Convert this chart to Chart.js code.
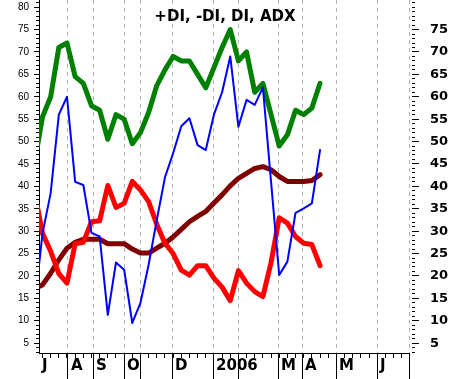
<!DOCTYPE html>
<html>
<head>
<meta charset="utf-8">
<script src="https://cdn.jsdelivr.net/npm/chart.js@4.4.1/dist/chart.umd.min.js"></script>
<style>
  html, body { margin: 0; padding: 0; background: #fff; }
  #wrap { width: 451px; height: 379px; }
</style>
</head>
<body>
<div id="wrap"><canvas id="dmi-chart" width="451" height="379"></canvas></div>
<script>
const chartTitle = '+DI, -DI, DI, ADX';

// weekly points, week 0 sits just left of the visible range
const weeks   = [0, 1, 2, 3, 4, 5, 6, 7, 8, 9, 10, 11, 12, 13, 14, 15, 16, 17, 18, 19, 20, 21, 22, 23, 24, 25, 26, 27, 28, 29, 30, 31, 32, 33, 34, 35];
const plusDI  = [45, 55.5, 60, 71, 72, 64.5, 63, 58, 57, 50.5, 56, 55, 49.5, 52, 56.5, 62.5, 66, 69, 68, 68, 65, 62, 66.5, 71, 75, 68, 70, 61, 63, 56, 49, 51.5, 57, 56, 57.5, 63];
const minusDI = [39, 29.5, 25.5, 20.5, 18.4, 27.2, 27.5, 32.1, 32.3, 40.2, 35.3, 36.2, 41.1, 39.2, 36.6, 31.5, 27.3, 25, 21.3, 20.2, 22.3, 22.3, 19.5, 17.5, 14.5, 21.2, 18.4, 16.5, 15.4, 23, 33, 31.8, 28.8, 27.3, 27, 22.3];
const dx      = [13, 29.5, 38.5, 56, 60, 41, 40.3, 29.6, 28.8, 11.3, 23, 21.4, 9.5, 14, 22.5, 32.5, 42, 47.4, 53.4, 55.2, 49.2, 48.1, 56, 61, 69, 53.3, 59.3, 58.2, 62.1, 41, 20.2, 23.2, 34.1, 35.1, 36.2, 48.1];
const adx     = [17.2, 18, 20.6, 23.6, 26.2, 27.5, 28.2, 28.2, 28.2, 27.2, 27.2, 27.2, 26, 25.1, 25.1, 26.2, 27.3, 28.7, 30.4, 32.1, 33.3, 34.4, 36.3, 38.1, 40.1, 41.8, 42.9, 44, 44.4, 43.7, 42.2, 41.1, 41.1, 41.1, 41.3, 42.6];

// month boundaries (in weeks) and their labels
const monthStarts = [0.57, 4.12, 7.19, 10.99, 12.95, 16.87, 21.89, 24.96, 29.86, 32.8, 36.97, 41.99, 45.9];
const monthLabels = ['J', 'A', 'S', 'O', '', 'D', '2006', '', 'M', 'A', 'M', 'J', ''];

const leftTicks  = [5, 10, 15, 20, 25, 30, 35, 40, 45, 50, 55, 60, 65, 70, 75, 80];
const rightTicks = [5, 10, 15, 20, 25, 30, 35, 40, 45, 50, 55, 60, 65, 70, 75];
const yMin = 2.8, yMax = 81.6;

function toPoints(values) {
    return values.map((v, i) => ({ x: weeks[i], y: v }));
}

function fixSize(prop, size) {
    return function(scale) {
        scale[prop] = size;
        scale.paddingTop = 0;
        scale.paddingBottom = 0;
        scale.paddingLeft = 0;
        scale.paddingRight = 0;
    };
}

function setTicks(values) {
    return function(scale) {
        scale.ticks = values.map(v => ({ value: v }));
    };
}

const unitTicks = [];
for (let v = 3; v <= 81; v++) unitTicks.push(v);
const weekTicks = [];
for (let w = 1; w <= 45; w++) weekTicks.push(w);

const titlePlugin = {
    id: 'chartTitle',
    afterDraw(chart) {
        const ctx = chart.ctx;
        ctx.save();
        ctx.font = 'bold 15px "DejaVu Sans"';
        ctx.fillStyle = '#000';
        ctx.textAlign = 'center';
        ctx.textBaseline = 'alphabetic';
        ctx.fillText(chartTitle, 225, 21);
        ctx.restore();
    }
};

const ctx = document.getElementById('dmi-chart').getContext('2d');
new Chart(ctx, {
    type: 'line',
    data: {
        datasets: [
            { label: 'DI', data: toPoints(dx), borderColor: '#0000ff', borderWidth: 2, order: 1 },
            { label: '+DI', data: toPoints(plusDI), borderColor: '#008000', borderWidth: 5, order: 2 },
            { label: '-DI', data: toPoints(minusDI), borderColor: '#ff0000', borderWidth: 5, order: 3 },
            { label: 'ADX', data: toPoints(adx), borderColor: '#800000', borderWidth: 5, order: 4 }
        ]
    },
    options: {
        responsive: false,
        animation: false,
        devicePixelRatio: 1,
        layout: { padding: 0 },
        elements: {
            point: { radius: 0 },
            line: { tension: 0, borderJoinStyle: 'round', borderCapStyle: 'round', fill: false }
        },
        plugins: {
            legend: { display: false },
            title: { display: false },
            tooltip: { enabled: false }
        },
        scales: {
            xWeek: {
                type: 'linear',
                position: 'bottom',
                weight: 0,
                min: monthStarts[0],
                max: monthStarts[monthStarts.length - 1],
                afterBuildTicks: setTicks(weekTicks),
                afterFit: fixSize('height', 0),
                ticks: { display: false },
                grid: { drawOnChartArea: false, tickLength: 5, color: '#000' },
                border: { display: false }
            },
            x: {
                type: 'linear',
                position: 'bottom',
                weight: 1,
                min: monthStarts[0],
                max: monthStarts[monthStarts.length - 1],
                afterBuildTicks: setTicks(monthStarts),
                afterFit: fixSize('height', 26),
                ticks: {
                    autoSkip: false,
                    maxRotation: 0,
                    align: 'start',
                    labelOffset: 3,
                    padding: -22,
                    color: '#000',
                    font: { family: 'DejaVu Sans', size: 15, weight: 'bold' },
                    callback: (v, i) => monthLabels[i]
                },
                grid: {
                    tickLength: 26,
                    color: c => c.index === 0 ? 'rgba(0,0,0,0)' : '#b4b4b4',
                    tickColor: c => c.index === 0 ? 'rgba(0,0,0,0)' : '#000',
                    tickBorderDash: []
                },
                border: { display: true, color: '#000', dash: [4, 4] }
            },
            yMinor: {
                type: 'linear',
                position: 'left',
                weight: 0,
                min: yMin,
                max: yMax,
                afterBuildTicks: setTicks(unitTicks),
                afterFit: fixSize('width', 0),
                ticks: { display: false },
                grid: { drawOnChartArea: false, tickLength: 3, color: '#000' },
                border: { display: false }
            },
            y: {
                type: 'linear',
                position: 'left',
                weight: 1,
                min: yMin,
                max: yMax,
                afterBuildTicks: setTicks(leftTicks),
                afterFit: fixSize('width', 39),
                ticks: {
                    padding: 5,
                    color: '#000',
                    font: { family: 'Liberation Sans', size: 10 }
                },
                grid: { drawOnChartArea: false, tickLength: 5, color: '#000' },
                border: { display: true, color: '#000' }
            },
            yRMinor: {
                type: 'linear',
                position: 'right',
                weight: 0,
                min: yMin,
                max: yMax,
                afterBuildTicks: setTicks(unitTicks),
                afterFit: fixSize('width', 0),
                ticks: { display: false },
                grid: { drawOnChartArea: false, tickLength: 6, color: '#000', tickBorderDash: [0, 3, 3, 20] },
                border: { display: false }
            },
            yR: {
                type: 'linear',
                position: 'right',
                weight: 1,
                min: yMin,
                max: yMax,
                afterBuildTicks: setTicks(rightTicks),
                afterFit: fixSize('width', 42),
                ticks: {
                    padding: 11,
                    color: '#000',
                    font: { family: 'DejaVu Sans', size: 13, weight: 'bold' }
                },
                grid: { drawOnChartArea: false, tickLength: 10, color: '#000', tickBorderDash: [0, 3, 7, 20] },
                border: { display: false }
            }
        }
    },
    plugins: [titlePlugin]
});
</script>
</body>
</html>
